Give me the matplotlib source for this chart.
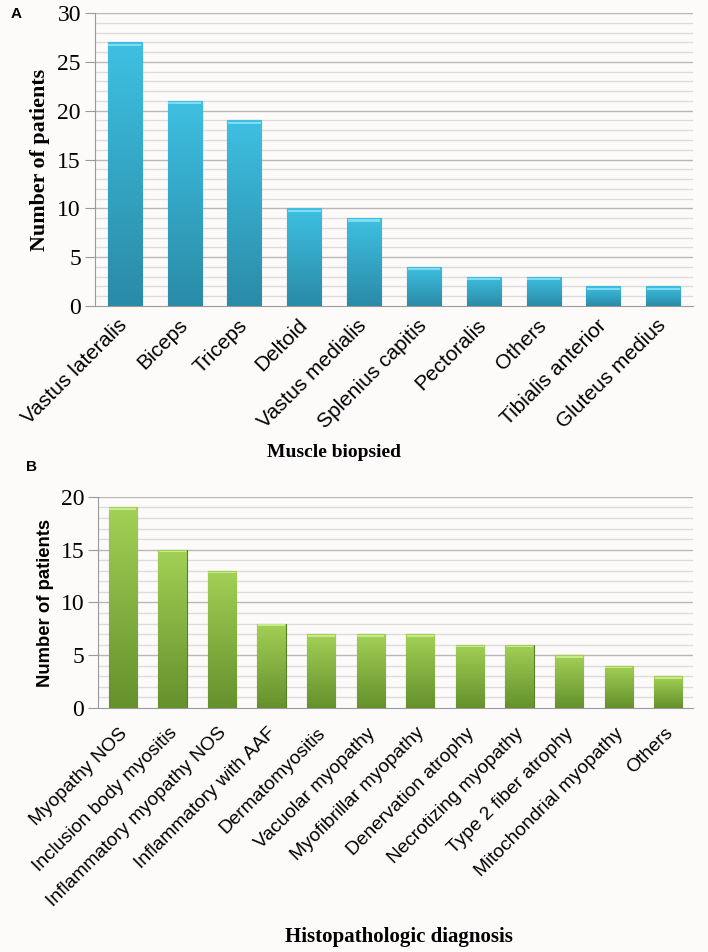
import numpy as np
import matplotlib
matplotlib.use('Agg')
import matplotlib.pyplot as plt
import matplotlib.transforms as mtransforms
from matplotlib.colors import LinearSegmentedColormap

muscles = ['Vastus lateralis', 'Biceps', 'Triceps', 'Deltoid', 'Vastus medialis',
           'Splenius capitis', 'Pectoralis', 'Others', 'Tibialis anterior', 'Gluteus medius']
muscle_counts = [27, 21, 19, 10, 9, 4, 3, 3, 2, 2]

diagnoses = ['Myopathy NOS', 'Inclusion body myositis', 'Inflammatory myopathy NOS',
             'Inflammatory with AAF', 'Dermatomyositis', 'Vacuolar myopathy',
             'Myofibrillar myopathy', 'Denervation atrophy', 'Necrotizing myopathy',
             'Type 2 fiber atrophy', 'Mitochondrial myopathy', 'Others']
diag_counts = [19, 15, 13, 8, 7, 7, 7, 6, 6, 5, 4, 3]

bg = '#fdfafa'
serif = 'Liberation Serif'
sans = 'Liberation Sans'


def draw_panel(fig, ax, labels, values, ymax, c_top, c_bot, c_edge, c_cap,
               ylab_font, ylab_size, xt_size, xt_pad, xt_shift):
    x = np.arange(len(labels))
    ax.set_facecolor(bg)
    ax.set_xlim(-0.5, len(labels) - 0.5)
    ax.set_ylim(0, ymax)
    # grid: minor every 1, major every 5
    for v in range(1, ymax + 1):
        col = '#b8b8b8' if v % 5 == 0 else '#dcdcdc'
        ax.axhline(v, color=col, lw=1.0, zorder=0)
    cmap = LinearSegmentedColormap.from_list('g', [c_bot, c_top])
    grad = np.linspace(0, 1, 100).reshape(-1, 1)
    bars = ax.bar(x, values, width=0.57, color=c_top, edgecolor=c_edge, lw=0.8, zorder=2)
    for b in bars:
        bx, bw, bh = b.get_x(), b.get_width(), b.get_height()
        im = ax.imshow(grad, cmap=cmap, origin='lower', aspect='auto',
                       extent=[bx, bx + bw, 0, bh], zorder=3)
        im.set_clip_path(b)
        # light cap on top
        ax.bar(bx + bw / 2, ymax * 0.008, bottom=bh - ymax * 0.012, width=bw * 0.96,
               color=c_cap, lw=0, zorder=4)
    ax.set_xticks(x)
    ax.set_xticklabels(labels, rotation=45, ha='right', rotation_mode='anchor',
                       fontfamily=sans, fontsize=xt_size)
    ax.tick_params(axis='x', length=0, pad=xt_pad)
    off = mtransforms.ScaledTranslation(xt_shift / 72, 0, fig.dpi_scale_trans)
    for t in ax.get_xticklabels():
        t.set_transform(t.get_transform() + off)
    ax.set_yticks(range(0, ymax + 1, 5))
    ax.tick_params(axis='y', length=7, color='#9a9a9a', pad=3)
    for t in ax.get_yticklabels():
        t.set_fontfamily(serif)
        t.set_fontsize(17)
    for s in ['top', 'right']:
        ax.spines[s].set_visible(False)
    ax.spines['left'].set_color('#9a9a9a')
    ax.spines['bottom'].set_color('#9a9a9a')
    ax.set_ylabel('Number of patients', fontfamily=ylab_font, fontsize=ylab_size,
                  fontweight='bold', labelpad=5)


fig = plt.figure(figsize=(7.08, 9.52), dpi=100, facecolor=bg)

ax1 = fig.add_axes([0.134, 0.6786, 0.845, 0.3077])
draw_panel(fig, ax1, muscles, muscle_counts, 30, '#3ec0e2', '#2a8ba7', '#227a92', '#80dcf2',
           serif, 15.8, 15, 7, -5)
fig.text(0.472, 0.525, 'Muscle biopsied', ha='center', va='center',
         fontfamily=serif, fontsize=14, fontweight='bold')
fig.text(0.015, 0.985, 'A', fontfamily=sans, fontsize=11, fontweight='bold', va='center')

ax2 = fig.add_axes([0.1384, 0.2563, 0.8406, 0.2217])
draw_panel(fig, ax2, diagnoses, diag_counts, 20, '#a3d055', '#64912c', '#587e24', '#c8ea88',
           sans, 13.3, 13.8, 12, -3)
fig.text(0.563, 0.016, 'Histopathologic diagnosis', ha='center', va='center',
         fontfamily=serif, fontsize=15, fontweight='bold')
fig.text(0.037, 0.509, 'B', fontfamily=sans, fontsize=11, fontweight='bold', va='center')

fig.savefig('out.png', dpi=100, facecolor=bg)
